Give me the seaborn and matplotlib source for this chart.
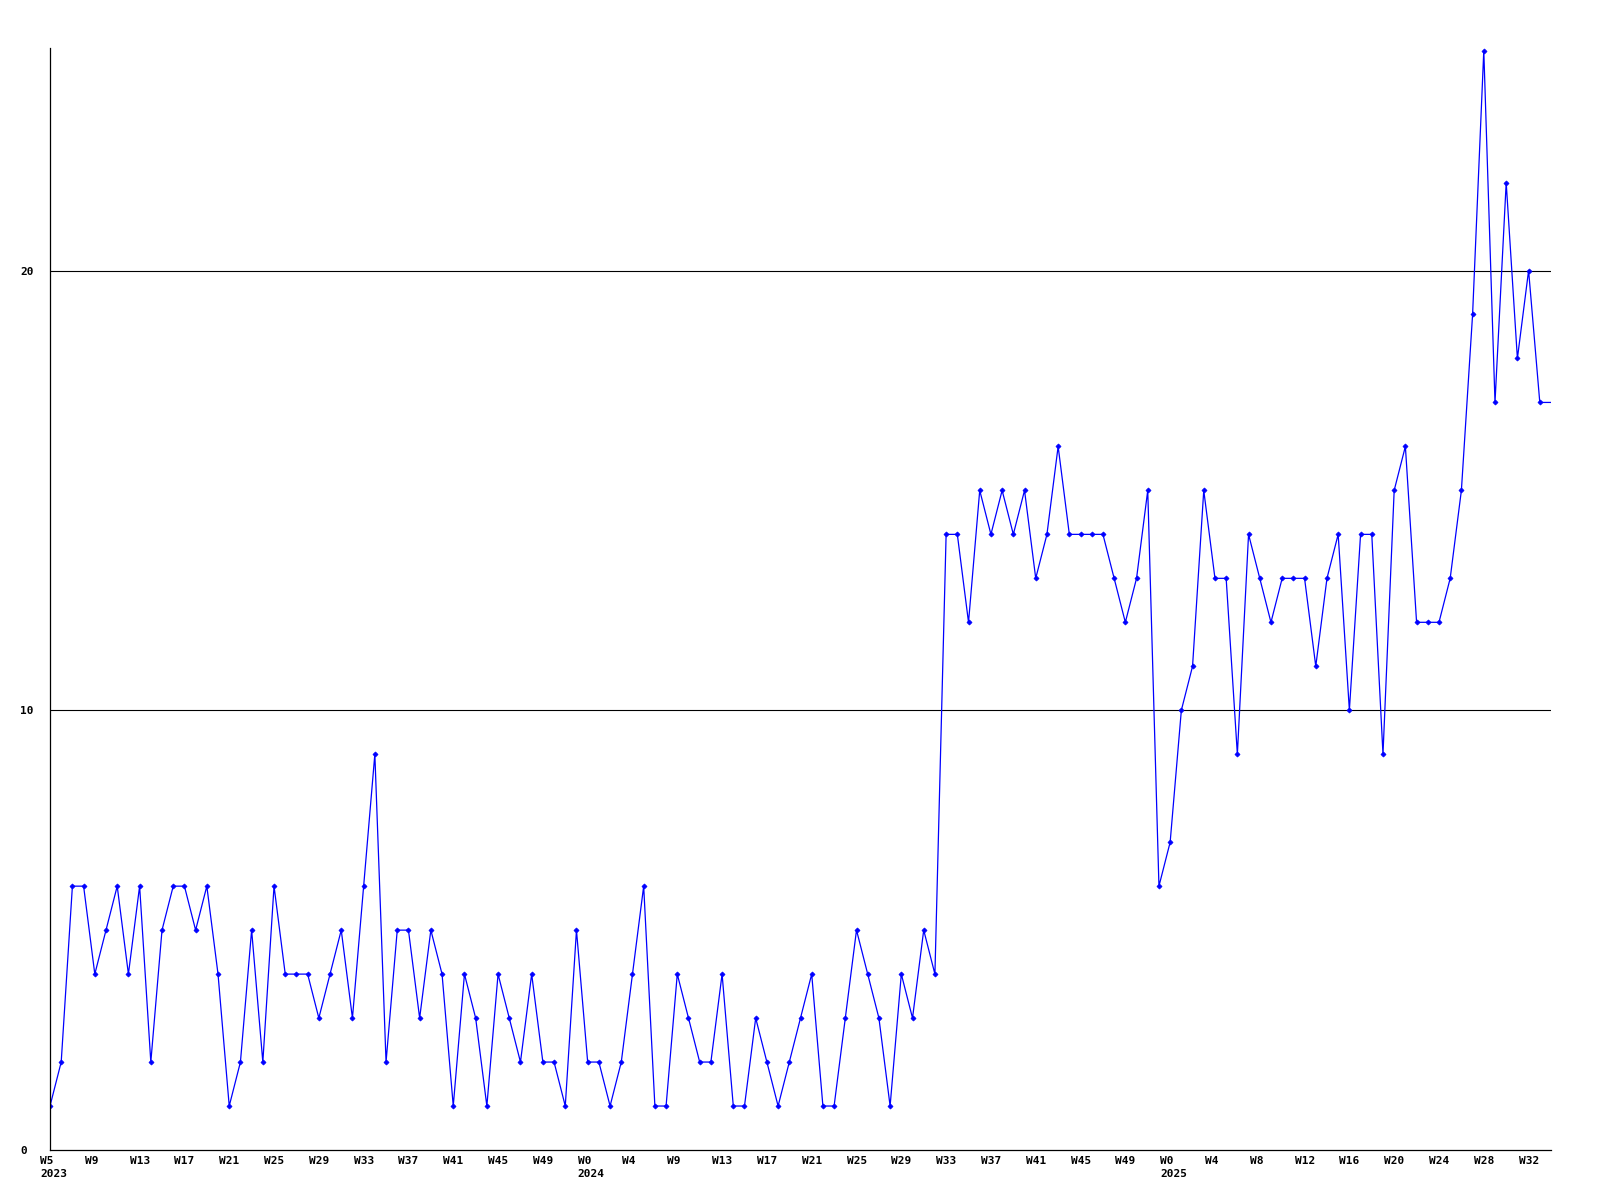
import matplotlib
matplotlib.use("Agg")
import matplotlib.pyplot as plt
import matplotlib.transforms as mtransforms
import seaborn as sns
import pandas as pd
import numpy as np

# ---- data ----
values = [1, 2, 6, 6, 4, 5, 6, 4, 6, 2, 5, 6, 6, 5, 6, 4, 1, 2, 5, 2,
          6, 4, 4, 4, 3, 4, 5, 3, 6, 9, 2, 5, 5, 3, 5, 4, 1, 4, 3, 1,
          4, 3, 2, 4, 2, 2, 1, 5, 2, 2, 1, 2, 4, 6, 1, 1, 4, 3, 2, 2,
          4, 1, 1, 3, 2, 1, 2, 3, 4, 1, 1, 3, 5, 4, 3, 1, 4, 3, 5, 4,
          14, 14, 12, 15, 14, 15, 14, 15, 13, 14, 16, 14, 14, 14, 14, 13, 12, 13, 15, 6,
          7, 10, 11, 15, 13, 13, 9, 14, 13, 12, 13, 13, 13, 11, 13, 14, 10, 14, 14, 9,
          15, 16, 12, 12, 12, 13, 15, 19, 25, 17, 22, 18, 20, 17, 17]
week_labels = ["W5", "W9", "W13", "W17", "W21", "W25", "W29", "W33", "W37", "W41", "W45", "W49",
               "W0", "W4", "W9", "W13", "W17", "W21", "W25", "W29", "W33", "W37", "W41", "W45", "W49",
               "W0", "W4", "W8", "W12", "W16", "W20", "W24", "W28", "W32"]
year_labels = {0: "2023", 12: "2024", 25: "2025"}
y_ticks = [0, 10, 20]

df = pd.DataFrame({"week": np.arange(len(values)), "count": values})

sns.set_theme(style="white")
plt.rcParams["font.family"] = ["DejaVu Sans Mono"]
plt.rcParams["text.color"] = "black"
plt.rcParams["xtick.color"] = "black"
plt.rcParams["ytick.color"] = "black"

fig = plt.figure(figsize=(16, 12), dpi=100)
ax = fig.add_axes([50 / 1600, 50 / 1200, 1501 / 1600, 1102 / 1200])

sns.lineplot(data=df, x="week", y="count", ax=ax, color="#0000FF", linewidth=0.9,
             marker="D", markersize=2.6, markeredgewidth=0.5, markeredgecolor="#0000FF",
             markevery=list(range(len(values) - 1)), clip_on=True)

for g in [10, 20]:
    ax.axhline(g, color="black", linewidth=0.8, zorder=0)

ax.set_xlim(0, 134)
ax.set_ylim(0, 25.06)
ax.set_xlabel("")
ax.set_ylabel("")

for side in ["top", "right"]:
    ax.spines[side].set_visible(False)
for side in ["left", "bottom"]:
    ax.spines[side].set_color("black")
    ax.spines[side].set_linewidth(0.9)

ax.set_yticks(y_ticks)
ax.set_yticklabels([str(v) for v in y_ticks], fontsize=8, fontweight="bold", color="black")
ax.tick_params(axis="y", length=0, pad=21.6)
for lab in ax.get_yticklabels():
    lab.set_horizontalalignment("left")

xt = list(range(0, 4 * len(week_labels), 4))
labels = []
for i, w in enumerate(week_labels):
    labels.append(w + ("\n" + year_labels[i] if i in year_labels else ""))
ax.set_xticks(xt)
ax.set_xticklabels(labels, fontsize=8, fontweight="bold", linespacing=1.45, color="black")
ax.tick_params(axis="x", length=0, pad=4)
offset = mtransforms.ScaledTranslation(-10 / 100, 0, fig.dpi_scale_trans)
for lab in ax.get_xticklabels():
    lab.set_horizontalalignment("left")
    lab.set_multialignment("left")
    lab.set_transform(lab.get_transform() + offset)

ax.grid(False)
fig.savefig("out.png", dpi=100, facecolor="white")
